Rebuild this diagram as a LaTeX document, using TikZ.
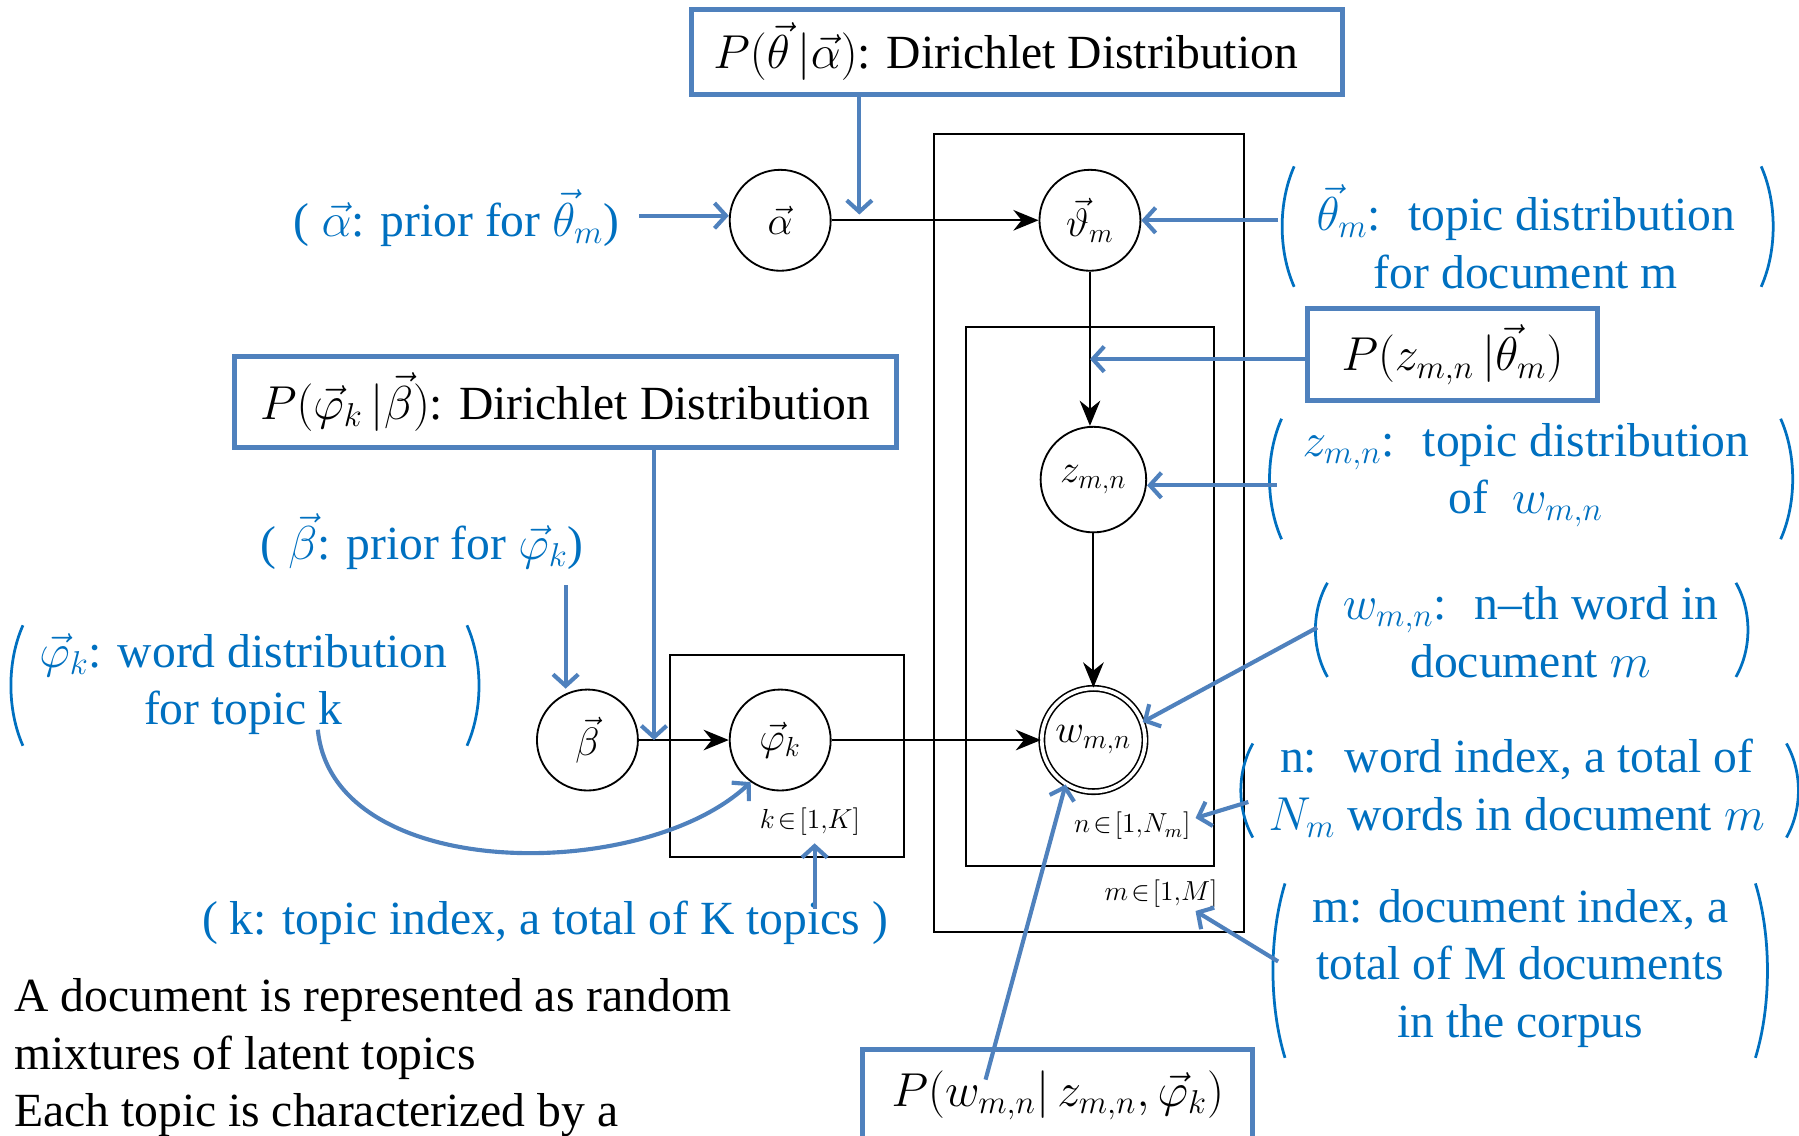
\documentclass[tikz,border=0pt]{standalone}
\usepackage{fontspec}
\newfontfamily\tnr{Liberation Serif}
\usetikzlibrary{arrows.meta}
\definecolor{anntext}{RGB}{0,112,192}
\definecolor{annline}{RGB}{79,129,189}
\newcommand\annparens[4]{%
  \draw[paren] (#1,#3) .. controls ({#1-14},{#3+0.3*(#4-#3)}) and ({#1-14},{#4-0.3*(#4-#3)}) .. (#1,#4);
  \draw[paren] (#2,#3) .. controls ({#2+14},{#3+0.3*(#4-#3)}) and ({#2+14},{#4-0.3*(#4-#3)}) .. (#2,#4);
}
\begin{document}
\begin{tikzpicture}[x=0.5pt,y=-0.5pt,
  big/.style={font=\tnr\fontsize{20.74}{25}\selectfont},
  ann/.style={big,text=anntext,align=center,inner sep=0pt},
  blk/.style={big,text=black,align=left,inner sep=0pt},
  var/.style={circle,draw=black,line width=0.8pt,minimum size=44pt,inner sep=0pt,font=\tnr\fontsize{17.28}{20}\selectfont},
  obs/.style={var,double,double distance=1.6pt,line width=0.7pt,minimum size=45pt},
  plate/.style={draw=black,line width=0.8pt,inner sep=0pt},
  platelabel/.style={font=\tnr\fontsize{12}{14}\selectfont,inner sep=0pt},
  dbox/.style={draw=annline,line width=2.2pt,big,inner sep=0pt},
  barrow/.style={draw=annline,line width=1.8pt,-{Straight Barb[length=5pt,width=11pt]}},
  karrow/.style={draw=black,line width=0.8pt,-{Stealth[length=11pt,width=9pt]}},
  paren/.style={draw=anntext,line width=1.2pt},
]
\useasboundingbox (0,0) rectangle (1568,990);

% plates
\node[plate,minimum width=135pt,minimum height=347.5pt] (plateM) at (949,464.5) {};
\node[plate,minimum width=108pt,minimum height=235pt] (plateN) at (950,520) {};
\node[plate,minimum width=102pt,minimum height=88pt] (plateK) at (686,659) {};

% variables
\node[var] (alpha) at (680,192) {$\vec{\alpha}$};
\node[var] (theta) at (950,192) {$\vec{\vartheta}_m$};
\node[var,minimum size=46pt] (z) at (953,418) {$z_{m,n}$};
\node[obs] (w) at (953,645) {$w_{m,n}$};
\node[var] (beta) at (512,645) {$\vec{\beta}$};
\node[var] (phi) at (680,645) {$\vec{\varphi}_k$};

% plate labels
\node[platelabel] (klab) at (706,716) {$k\!\in\![1,\!K]$};
\node[platelabel] (nlab) at (987,720) {$n\!\in\![1,\!N_m]$};
\node[platelabel] (mlab) at (1012,779) {$m\!\in\![1,\!M]$};

% distribution boxes
\node[dbox,minimum width=283.5pt,minimum height=37pt] (pth) at (886.5,45) {$P(\vec{\theta}\,\big|\vec{\alpha})$: Dirichlet Distribution\hspace*{10pt}};
\node[dbox,minimum width=126pt,minimum height=40pt] (pz) at (1266,309) {$P(z_{m,n}\,\big|\vec{\theta}_m)$};
\node[dbox,minimum width=288.5pt,minimum height=39.5pt] (pphi) at (492.5,350.5) {$P(\vec{\varphi}_k\,\big|\vec{\beta})$: Dirichlet Distribution};
\node[dbox,minimum width=170pt,minimum height=40pt] (pw) at (922,955) {$P(w_{m,n}\big|\,z_{m,n},\vec{\varphi}_k)$};

% annotations
\node[ann] (aprior) at (398,190) {( $\vec{\alpha}$: prior for $\vec{\theta}_m$)};
\node[ann] (thann) at (1330,206) {$\vec{\theta}_m$:~ topic distribution\\for document m};
\node[ann] (zann) at (1330,414) {$z_{m,n}$:~ topic distribution\\of~ $w_{m,n}$};
\node[ann] (wann) at (1334,551) {$w_{m,n}$:~ n\textendash th word in\\document $m$};
\node[ann] (nann) at (1322,687) {n:~ word index, a total of\\$N_m$ words in document $m$};
\node[ann] (mann) at (1325,844) {m: document index, a\\total of M documents\\in the corpus};
\node[ann] (bprior) at (368,472) {( $\vec{\beta}$: prior for $\vec{\varphi}_k$)};
\node[ann] (phiann) at (212,596) {$\vec{\varphi}_k$: word distribution\\for topic k};
\node[ann] (kann) at (475,804) {( k: topic index, a total of K topics )};
\node[blk,anchor=west] (doc) at (12,922) {A document is represented as random\\mixtures of latent topics\\Each topic is characterized by a};

% parentheses
\annparens{1128}{1535}{145}{250}
\annparens{1117}{1552}{365}{470}
\annparens{1157}{1513}{508}{590}
\annparens{1092}{1557}{648}{730}
\annparens{1120}{1530}{770}{922}
\annparens{20}{407}{545}{650}

% black model arrows
\draw[karrow] (alpha) -- (theta);
\draw[karrow] (theta.south) -- (theta.south |- z.north);
\draw[karrow] (z) -- (w);
\draw[karrow] (beta) -- (phi);
\draw[karrow] (phi) -- (w);

% blue annotation arrows
\coordinate (aS) at (557,188);
\draw[barrow] (aS) -- (aS -| alpha.west);
\coordinate (pthT) at (749,187);
\draw[barrow] (pth.south -| pthT) -- (pthT);
\coordinate (thS) at (1114,192);
\draw[barrow] (thS) -- (theta.east);
\coordinate (pzT) at (950,313);
\draw[barrow] (pz.west |- pzT) -- (pzT);
\coordinate (zS) at (1113,423);
\draw[barrow] (zS) -- (zS -| z.east);
\coordinate (wS) at (1148,547);
\draw[barrow] (wS) -- (w.20);
\coordinate (nS) at (1088,699);
\coordinate (nT) at (1042,713);
\draw[barrow] (nS) -- (nT);
\coordinate (mS) at (1114,838);
\coordinate (mT) at (1042,794);
\draw[barrow] (mS) -- (mT);
\coordinate (pwS) at (859,941);
\draw[barrow] (pwS) -- (w.-122);
\coordinate (phT) at (570,645);
\draw[barrow] (pphi.south -| phT) -- (phT);
\coordinate (bS) at (493,510);
\draw[barrow] (bS) -- (bS |- beta.north);
\coordinate (cS) at (277,636);
\draw[barrow] (cS) .. controls (290,770) and (560,770) .. (phi.-125);
\coordinate (kS) at (710,792);
\coordinate (kT) at (710,735);
\draw[barrow] (kS) -- (kT);
\end{tikzpicture}
\end{document}
